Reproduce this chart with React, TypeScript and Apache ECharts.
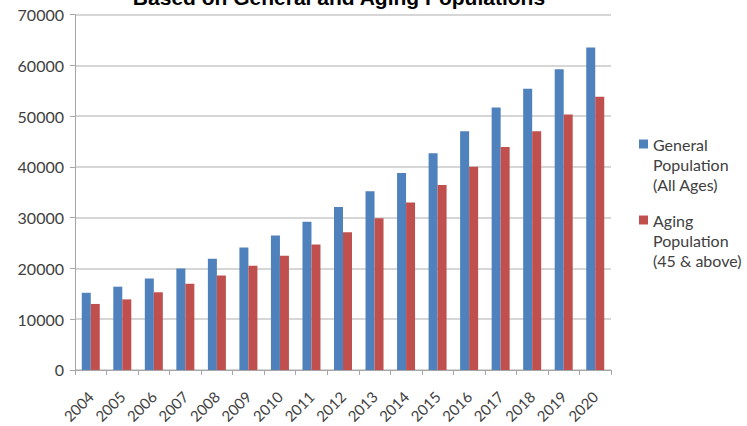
import React, { useEffect, useRef } from "react";
import * as echarts from "echarts";

const years = ["2004","2005","2006","2007","2008","2009","2010","2011","2012","2013","2014","2015","2016","2017","2018","2019","2020"];
const generalPop = [15200,16400,18000,20000,21900,24100,26500,29200,32100,35200,38800,42700,47000,51700,55400,59200,63500];
const agingPop = [13000,13900,15300,17000,18600,20500,22500,24700,27100,29900,33000,36400,40000,43900,47000,50300,53800];
const seriesNames = ["General\nPopulation\n(All Ages)", "Aging\nPopulation\n(45 & above)"];
const titleText = "Based on General and Aging Populations";

export default function App() {
  const ref = useRef<HTMLDivElement>(null);
  useEffect(() => {
    if (!ref.current) return;
    const chart = echarts.init(ref.current, null, { renderer: "svg" });
    chart.setOption({
      animation: false,
      backgroundColor: "#ffffff",
      title: {
        text: titleText,
        left: 334,
        textAlign: "center",
        top: -18,
        textStyle: { fontFamily: "Liberation Sans", fontWeight: "bold", fontSize: 21, color: "#000000" },
      },
      legend: {
        orient: "vertical",
        left: 634,
        top: 89,
        itemWidth: 9,
        itemHeight: 9,
        itemGap: -24,
        icon: "rect",
        formatter: (name: string) => "\n\n" + name,
        textStyle: {
          fontFamily: "Lato",
          fontSize: 16,
          lineHeight: 20,
          color: "#404040",
        },
        data: seriesNames,
      },
      grid: { left: 75, right: 136, top: 14.5, bottom: 55, containLabel: false },
      xAxis: {
        type: "category",
        data: years,
        boundaryGap: true,
        axisLine: { show: true, lineStyle: { color: "#a6a6a6", width: 1 } },
        axisTick: { show: true, alignWithLabel: false, length: 5, lineStyle: { color: "#a6a6a6" } },
        axisLabel: { rotate: 45, margin: 24, fontFamily: "Lato", fontSize: 15, color: "#404040", interval: 0 },
      },
      yAxis: {
        type: "value",
        min: 0,
        max: 70000,
        interval: 10000,
        axisLine: { show: true, lineStyle: { color: "#a6a6a6", width: 1 } },
        axisTick: { show: true, length: 5, lineStyle: { color: "#a6a6a6" } },
        axisLabel: { margin: 11, fontFamily: "Lato", fontSize: 16, color: "#404040", formatter: (v: number) => String(v) },
        splitLine: { show: true, lineStyle: { color: "#c8c8c8", width: 1.5 } },
      },
      series: [
        { name: seriesNames[0], type: "bar", data: generalPop, barWidth: 9, barGap: "0%", itemStyle: { color: "#4f81bd" } },
        { name: seriesNames[1], type: "bar", data: agingPop, barWidth: 9, barGap: "0%", itemStyle: { color: "#c0504d" } },
      ],
    });
    return () => chart.dispose();
  }, []);
  return <div ref={ref} style={{ width: 747, height: 426, position: "absolute", left: 0, top: 0 }} />;
}
